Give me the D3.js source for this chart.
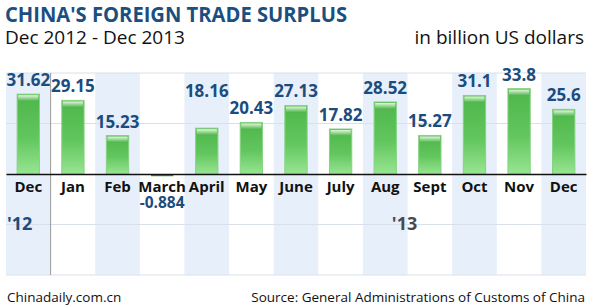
<!DOCTYPE html>
<html lang="en">
<head>
  <meta charset="utf-8">
  <title>China's foreign trade surplus</title>
  <script src="https://d3js.org/d3.v7.min.js"></script>
  <style>
    body { margin: 0; background: #fff; }
    text { font-family: 'Open Sans', sans-serif; }
  </style>
</head>
<body>
  <script>
    // monthly surplus, billion US dollars
    var months = ['Dec', 'Jan', 'Feb', 'March', 'April', 'May', 'June', 'July', 'Aug', 'Sept', 'Oct', 'Nov', 'Dec'];
    var surplus = [31.62, 29.15, 15.23, -0.884, 18.16, 20.43, 27.13, 17.82, 28.52, 15.27, 31.1, 33.8, 25.6];
    var valueLabels = ['31.62', '29.15', '15.23', '-0.884', '18.16', '20.43', '27.13', '17.82', '28.52', '15.27', '31.1', '33.8', '25.6'];
    var gridTicks = [-40, -20, 20, 40];

    var w = 592, h = 308;
    var blue = '#1b4c7e';

    var svg = d3.select('body').append('svg')
      .attr('width', w)
      .attr('height', h);

    var defs = svg.append('defs');
    var grad = defs.append('linearGradient')
      .attr('id', 'barFill')
      .attr('x1', 0).attr('y1', 0).attr('x2', 0).attr('y2', 1);
    grad.append('stop').attr('offset', '0%').attr('stop-color', '#4db64a');
    grad.append('stop').attr('offset', '55%').attr('stop-color', '#62c65e');
    grad.append('stop').attr('offset', '100%').attr('stop-color', '#98e592');

    var shine = defs.append('linearGradient')
      .attr('id', 'shine')
      .attr('x1', 0).attr('y1', 0).attr('x2', 0).attr('y2', 1);
    shine.append('stop').attr('offset', '0%').attr('stop-color', '#e2f6dc');
    shine.append('stop').attr('offset', '100%').attr('stop-color', '#4db64a');

    var idx = d3.range(months.length);

    var x = d3.scaleBand()
      .domain(idx)
      .range([6, 586])
      .padding(0);

    var y = d3.scaleLinear()
      .domain([-40, 40])
      .range([275, 73]);

    // alternating column stripes
    svg.append('g').selectAll('rect')
      .data(idx.filter(function (i) { return i % 2 === 0; }))
      .enter().append('rect')
      .attr('x', function (i) { return x(i); })
      .attr('y', y(40))
      .attr('width', x.bandwidth())
      .attr('height', y(-40) - y(40))
      .attr('fill', '#e7effa');

    // gridlines
    svg.append('g').selectAll('line')
      .data(gridTicks)
      .enter().append('line')
      .attr('x1', 6).attr('x2', 586)
      .attr('y1', function (d) { return y(d); })
      .attr('y2', function (d) { return y(d); })
      .attr('stroke', '#d9e0ea')
      .attr('stroke-width', 1);

    // year divider between Dec '12 and Jan '13
    svg.append('line')
      .attr('x1', x(1)).attr('x2', x(1))
      .attr('y1', y(40)).attr('y2', y(-40))
      .attr('stroke', '#9a9a9a')
      .attr('stroke-width', 1);

    var barW = x.bandwidth() * 0.5;

    var bars = svg.append('g').selectAll('g')
      .data(idx)
      .enter().append('g');

    bars.append('rect')
      .attr('x', function (i) { return x(i) + (x.bandwidth() - barW) / 2; })
      .attr('y', function (i) { return y(Math.max(0, surplus[i])); })
      .attr('width', barW)
      .attr('height', function (i) { return Math.abs(y(surplus[i]) - y(0)); })
      .attr('fill', function (i) { return surplus[i] < 0 ? '#3d8f3b' : 'url(#barFill)'; })
      .attr('stroke', function (i) { return surplus[i] < 0 ? 'none' : '#86d282'; })
      .attr('stroke-width', 1);

    // glossy cap at the top of each bar
    bars.filter(function (i) { return surplus[i] > 0; })
      .append('rect')
      .attr('x', function (i) { return x(i) + (x.bandwidth() - barW) / 2 + 1; })
      .attr('y', function (i) { return y(surplus[i]) + 1; })
      .attr('width', barW - 2)
      .attr('height', 6)
      .attr('fill', 'url(#shine)');

    // zero axis with month names
    var xAxis = d3.axisBottom(x)
      .tickSize(0)
      .tickPadding(7)
      .tickFormat(function (i) { return months[i]; });

    var axisG = svg.append('g')
      .attr('transform', 'translate(0,' + y(0) + ')')
      .call(xAxis);
    axisG.select('.domain').attr('stroke', '#111').attr('stroke-width', 1.5);
    axisG.selectAll('text')
      .attr('fill', '#111')
      .style('font-family', "'Open Sans', sans-serif")
      .style('font-size', '15px')
      .style('font-weight', 'bold');

    // value labels
    var nudge = { 4: -23 };
    svg.append('g').selectAll('text')
      .data(idx)
      .enter().append('text')
      .attr('x', function (i) { return x(i) + x.bandwidth() / 2; })
      .attr('y', function (i) {
        if (surplus[i] < 0) return y(0) + 34;
        return y(surplus[i]) - 8 + (nudge[i] || 0);
      })
      .attr('text-anchor', 'middle')
      .attr('fill', blue)
      .style('font-size', function (i) { return surplus[i] < 0 ? '15.5px' : '17px'; })
      .style('font-weight', 'bold')
      .text(function (i) { return valueLabels[i]; });

    // year marks
    svg.append('text')
      .attr('x', 7).attr('y', 230)
      .attr('fill', blue)
      .style('font-size', '18px').style('font-weight', 'bold')
      .text("'12");

    svg.append('text')
      .attr('x', x(9) - 3).attr('y', 230)
      .attr('text-anchor', 'middle')
      .attr('fill', '#4a4a4a')
      .style('font-size', '18px').style('font-weight', 'bold')
      .text("'13");

    // titles
    svg.append('text')
      .attr('x', 5).attr('y', 22)
      .attr('fill', '#1b4f80')
      .attr('textLength', 342)
      .attr('lengthAdjust', 'spacingAndGlyphs')
      .style('font-size', '21px').style('font-weight', 'bold')
      .text("CHINA'S FOREIGN TRADE SURPLUS");

    svg.append('text')
      .attr('x', 5).attr('y', 44)
      .attr('fill', '#111')
      .style('font-size', '19px')
      .text('Dec 2012 - Dec 2013');

    svg.append('text')
      .attr('x', 584).attr('y', 44)
      .attr('text-anchor', 'end')
      .attr('fill', '#111')
      .style('font-size', '19px')
      .text('in billion US dollars');

    // footer
    svg.append('text')
      .attr('x', 7).attr('y', 302)
      .attr('fill', '#111')
      .style('font-size', '13.5px')
      .text('Chinadaily.com.cn');

    svg.append('text')
      .attr('x', 585).attr('y', 302)
      .attr('text-anchor', 'end')
      .attr('fill', '#111')
      .style('font-size', '13.5px')
      .text('Source: General Administrations of Customs of China');
  </script>
</body>
</html>
